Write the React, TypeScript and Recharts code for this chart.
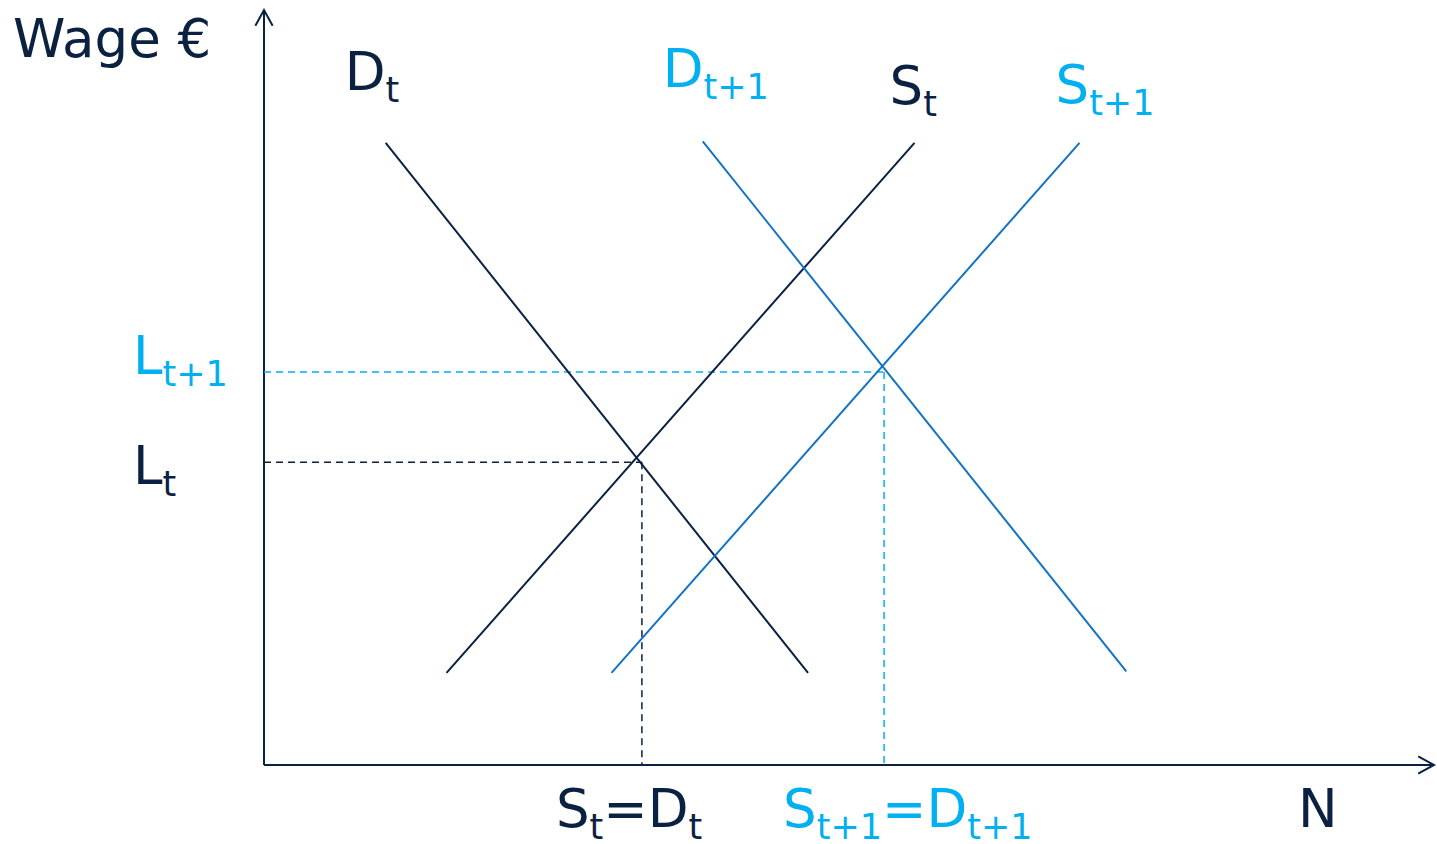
import React from 'react';
import { LineChart, Line, XAxis, YAxis, ReferenceLine, ReferenceDot } from 'recharts';

// curve end points, N (employment) vs wage, both axes on a 0..100 scale
const demandT = [
  { n: 10.4, w: 82.4 },
  { n: 46.5, w: 12.2 },
];
const supplyT = [
  { n: 15.6, w: 12.2 },
  { n: 55.6, w: 82.4 },
];
const demandT1 = [
  { n: 37.5, w: 82.6 },
  { n: 73.7, w: 12.4 },
];
const supplyT1 = [
  { n: 29.7, w: 12.2 },
  { n: 69.7, w: 82.4 },
];

// equilibria: [t, t+1]
const equilibriumN = [32.3, 53.0];
const equilibriumWage = [40.1, 52.05];

const NAVY = '#0b2142';
const BLUE = '#1273c4';
const CYAN = '#00b0f0';
const FONT = '"DejaVu Sans", Verdana, sans-serif';
const MAIN = 53;
const SUB = 35;

const ArrowLine = (p: any) => {
  const { x1, y1, x2, y2, stroke } = p;
  const a = Math.atan2(y2 - y1, x2 - x1);
  const len = 18;
  const spread = 0.5;
  const ax = x2 - len * Math.cos(a - spread);
  const ay = y2 - len * Math.sin(a - spread);
  const bx = x2 - len * Math.cos(a + spread);
  const by = y2 - len * Math.sin(a + spread);
  return (
    <g>
      <line x1={x1} y1={y1} x2={x2} y2={y2} stroke={stroke} strokeWidth={2} />
      <polyline
        points={`${ax},${ay} ${x2},${y2} ${bx},${by}`}
        fill="none"
        stroke={stroke}
        strokeWidth={2}
      />
    </g>
  );
};

// text like "S_t=D_t": parts alternate main / subscript
type Part = { t: string; sub?: boolean };

const label = (parts: Part[], color: string, dx: number, dy: number) => (p: any) => {
  let inSub = false;
  return (
    <text x={p.cx + dx} y={p.cy + dy} fill={color} fontFamily={FONT} fontSize={MAIN}>
      {parts.map((part, i) => {
        const shift = part.sub && !inSub ? 12 : !part.sub && inSub ? -12 : 0;
        inSub = !!part.sub;
        return (
          <tspan key={i} dy={shift} fontSize={part.sub ? SUB : MAIN}>
            {part.t}
          </tspan>
        );
      })}
    </text>
  );
};

export default function App() {
  const [nT, nT1] = equilibriumN;
  const [wT, wT1] = equilibriumWage;

  return (
    <div style={{ position: 'absolute', left: 0, top: 0, background: '#fff' }}>
      <LineChart width={1437} height={844} margin={{ top: 10, right: 3, bottom: 79, left: 264 }}>
        <XAxis type="number" dataKey="n" domain={[0, 100]} allowDataOverflow hide />
        <YAxis type="number" dataKey="w" domain={[0, 100]} allowDataOverflow hide />

        {/* axes */}
        <ReferenceLine segment={[{ x: 0, y: 0 }, { x: 0, y: 100 }]} stroke={NAVY} shape={ArrowLine} ifOverflow="visible" />
        <ReferenceLine segment={[{ x: 0, y: 0 }, { x: 100, y: 0 }]} stroke={NAVY} shape={ArrowLine} ifOverflow="visible" />

        {/* guides */}
        <ReferenceLine segment={[{ x: 0, y: wT }, { x: nT, y: wT }]} stroke={NAVY} strokeWidth={1.5} strokeDasharray="7 5" />
        <ReferenceLine segment={[{ x: nT, y: wT }, { x: nT, y: 0 }]} stroke={NAVY} strokeWidth={1.5} strokeDasharray="7 5" />
        <ReferenceLine segment={[{ x: 0, y: wT1 }, { x: nT1, y: wT1 }]} stroke={CYAN} strokeWidth={1.5} strokeDasharray="7 5" />
        <ReferenceLine segment={[{ x: nT1, y: wT1 }, { x: nT1, y: 0 }]} stroke={CYAN} strokeWidth={1.5} strokeDasharray="7 5" />

        <Line data={demandT} dataKey="w" stroke={NAVY} strokeWidth={2} dot={false} isAnimationActive={false} />
        <Line data={supplyT} dataKey="w" stroke={NAVY} strokeWidth={2} dot={false} isAnimationActive={false} />
        <Line data={demandT1} dataKey="w" stroke={BLUE} strokeWidth={2} dot={false} isAnimationActive={false} />
        <Line data={supplyT1} dataKey="w" stroke={BLUE} strokeWidth={2} dot={false} isAnimationActive={false} />

        {/* labels */}
        <ReferenceDot x={0} y={100} ifOverflow="visible" shape={label([{ t: 'Wage €' }], NAVY, -251, 47)} />
        <ReferenceDot x={demandT[0].n} y={demandT[0].w} ifOverflow="visible" shape={label([{ t: 'D' }, { t: 't', sub: true }], NAVY, -41, -53)} />
        <ReferenceDot x={demandT1[0].n} y={demandT1[0].w} ifOverflow="visible" shape={label([{ t: 'D' }, { t: 't+1', sub: true }], CYAN, -40, -54)} />
        <ReferenceDot x={supplyT[1].n} y={supplyT[1].w} ifOverflow="visible" shape={label([{ t: 'S' }, { t: 't', sub: true }], NAVY, -25, -39)} />
        <ReferenceDot x={supplyT1[1].n} y={supplyT1[1].w} ifOverflow="visible" shape={label([{ t: 'S' }, { t: 't+1', sub: true }], CYAN, -24, -40)} />
        <ReferenceDot x={0} y={wT1} ifOverflow="visible" shape={label([{ t: 'L' }, { t: 't+1', sub: true }], CYAN, -131, 2)} />
        <ReferenceDot x={0} y={wT} ifOverflow="visible" shape={label([{ t: 'L' }, { t: 't', sub: true }], NAVY, -131, 22)} />
        <ReferenceDot
          x={nT}
          y={0}
          ifOverflow="visible"
          shape={label([{ t: 'S' }, { t: 't', sub: true }, { t: '=D' }, { t: 't', sub: true }], NAVY, -86, 62)}
        />
        <ReferenceDot
          x={nT1}
          y={0}
          ifOverflow="visible"
          shape={label([{ t: 'S' }, { t: 't+1', sub: true }, { t: '=D' }, { t: 't+1', sub: true }], CYAN, -101, 62)}
        />
        <ReferenceDot x={100} y={0} ifOverflow="visible" shape={label([{ t: 'N' }], NAVY, -136, 62)} />
      </LineChart>
    </div>
  );
}
